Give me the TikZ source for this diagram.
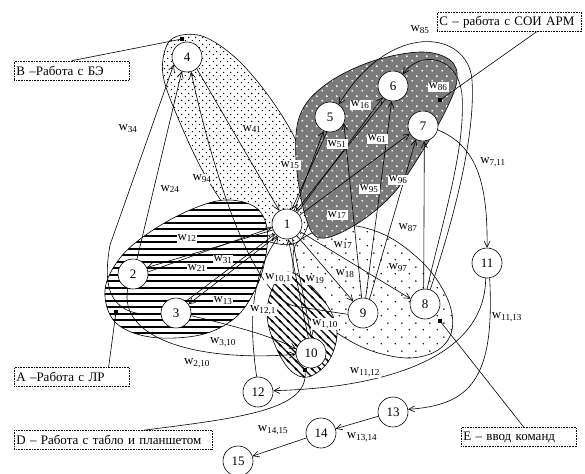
\documentclass[tikz,border=0pt]{standalone}
\usepackage{fontspec}
\setmainfont{Liberation Serif}
\usetikzlibrary{arrows.meta,patterns,calc}

\pgfdeclarepatternformonly{DotsB}{\pgfpointorigin}{\pgfqpoint{6.5pt}{6.5pt}}{\pgfqpoint{6.5pt}{6.5pt}}{%
  \pgfpathcircle{\pgfqpoint{1.6pt}{1.6pt}}{0.8pt}%
  \pgfpathcircle{\pgfqpoint{4.85pt}{4.85pt}}{0.8pt}%
  \pgfusepath{fill}}
\pgfdeclarepatternformonly{DotsE}{\pgfpointorigin}{\pgfqpoint{14pt}{14pt}}{\pgfqpoint{14pt}{14pt}}{%
  \pgfpathcircle{\pgfqpoint{3.5pt}{3.5pt}}{0.85pt}%
  \pgfpathcircle{\pgfqpoint{10.5pt}{10.5pt}}{0.85pt}%
  \pgfusepath{fill}}
\pgfdeclarepatternformonly{StripesA}{\pgfqpoint{-1pt}{0pt}}{\pgfqpoint{8pt}{6.5pt}}{\pgfqpoint{7pt}{6.5pt}}{%
  \pgfsetlinewidth{2.1pt}%
  \pgfpathmoveto{\pgfqpoint{-1pt}{3.25pt}}%
  \pgfpathlineto{\pgfqpoint{8pt}{3.25pt}}%
  \pgfusepath{stroke}}
\pgfdeclarepatternformonly{HatchD}{\pgfqpoint{-1pt}{-1pt}}{\pgfqpoint{9pt}{9pt}}{\pgfqpoint{8pt}{8pt}}{%
  \pgfsetlinewidth{1.4pt}%
  \pgfpathmoveto{\pgfqpoint{-1pt}{9pt}}\pgfpathlineto{\pgfqpoint{9pt}{-1pt}}%
  \pgfpathmoveto{\pgfqpoint{-1pt}{1pt}}\pgfpathlineto{\pgfqpoint{1pt}{-1pt}}%
  \pgfpathmoveto{\pgfqpoint{7pt}{9pt}}\pgfpathlineto{\pgfqpoint{9pt}{7pt}}%
  \pgfusepath{stroke}}
\pgfdeclarepatternformonly{CrossC}{\pgfpointorigin}{\pgfqpoint{10pt}{10pt}}{\pgfqpoint{10pt}{10pt}}{%
  \pgfsetlinewidth{0.8pt}%
  \pgfpathmoveto{\pgfqpoint{1.5pt}{2.5pt}}\pgfpathlineto{\pgfqpoint{3.5pt}{2.5pt}}%
  \pgfpathmoveto{\pgfqpoint{2.5pt}{1.5pt}}\pgfpathlineto{\pgfqpoint{2.5pt}{3.5pt}}%
  \pgfpathmoveto{\pgfqpoint{6.5pt}{7.5pt}}\pgfpathlineto{\pgfqpoint{8.5pt}{7.5pt}}%
  \pgfpathmoveto{\pgfqpoint{7.5pt}{6.5pt}}\pgfpathlineto{\pgfqpoint{7.5pt}{8.5pt}}%
  \pgfusepath{stroke}}

\tikzset{
  st/.style={circle, draw, fill=white, minimum size=30pt, inner sep=0pt, font=\fontsize{13}{14}\selectfont},
  arc/.style={-{Straight Barb[length=6pt,width=6pt]}},
  wl/.style={fill=white, inner sep=1pt, font=\fontsize{13}{14}\selectfont},
  zonebox/.style={draw, densely dotted, anchor=west, inner sep=2pt, align=left, minimum height=19pt, font=\fontsize{13}{15}\selectfont},
  ptr/.style={fill, inner sep=0pt, minimum size=3.5pt},
  zoneA/.style={draw, preaction={fill=white}, pattern=StripesA},
  zoneB/.style={draw, preaction={fill=white}, pattern=DotsB},
  zoneC/.style={draw, preaction={fill=black!52}, pattern=CrossC, pattern color=white},
  zoneD/.style={draw, preaction={fill=white}, pattern=HatchD},
  zoneE/.style={draw, preaction={fill=white}, pattern=DotsE},
}

\begin{document}
\begin{tikzpicture}[x=1pt,y=-1pt,line width=0.6pt]
\useasboundingbox (0,0) rectangle (585,473);

\draw[zoneE] plot[smooth cycle,tension=0.6] coordinates {(300,240) (340,225) (385,235) (425,265) (448,300) (452,330) (438,350) (410,358) (375,352) (345,338) (318,318) (298,290) (293,262)};
\draw[zoneB] plot[smooth cycle,tension=0.6] coordinates {(182,35) (207,38) (240,62) (275,105) (300,150) (312,200) (300,240) (270,242) (238,222) (205,175) (178,118) (163,75) (167,45)};
\draw[zoneC] plot[smooth cycle,tension=0.6] coordinates {(305,215) (296,160) (300,115) (325,85) (370,62) (420,52) (450,60) (457,80) (445,112) (420,155) (392,195) (355,225) (320,238)};
\draw[zoneA] plot[smooth cycle,tension=0.6] coordinates {(105,290) (120,258) (150,232) (190,210) (225,200) (255,207) (267,228) (265,260) (255,290) (235,318) (200,335) (150,337) (115,322)};
\draw[zoneD] plot[smooth cycle,tension=0.6] coordinates {(288,272) (310,285) (330,310) (337,335) (328,362) (308,377) (290,370) (275,345) (267,315) (273,287)};

\node[st] (n1) at (287,224) {1};
\node[st] (n2) at (133,274) {2};
\node[st] (n3) at (176,313) {3};
\node[st] (n4) at (187,57) {4};
\node[st] (n5) at (330,117) {5};
\node[st] (n6) at (393,86) {6};
\node[st] (n7) at (423,126) {7};
\node[st] (n8) at (425,304) {8};
\node[st] (n9) at (363,313) {9};
\node[st] (n10) at (311,353) {10};
\node[st] (n11) at (487,263) {11};
\node[st] (n12) at (258,392) {12};
\node[st] (n13) at (393,412) {13};
\node[st] (n14) at (321,433) {14};
\node[st] (n15) at (238,461) {15};

\draw[arc] (n4.-50) -- (n1.120);
\draw[arc] (n2.75) -- (n4.-110);
\draw[arc] (n3.185) .. controls (110,318) and (102,290) .. (110,245) -- (n4.-150);
\draw[arc] (n9.185) -- (300,307) .. controls (255,305) and (215,180) .. (n4.-75);
\draw[arc] (n1.203) -- (n2.25);
\draw[arc] (n2.8) -- (n1.193);
\draw[arc] (n1.230) -- (n3.35);
\draw[arc] (n3.50) -- (n1.220);
\draw[arc] (n2.250) .. controls (118,340) and (200,362) .. (n10.185);
\draw[arc] (n3.-10) .. controls (230,325) and (270,335) .. (n10.165);
\draw[arc] (n10.100) -- (n1.-85);
\draw[arc] (n1.-70) -- (n10.88);
\draw[arc] (n12.95) .. controls (250,330) and (248,280) .. (n1.235);
\draw[arc] (n1.-50) -- (n9.130);
\draw[arc] (n1.-30) -- (n8.160);
\draw[arc] (n1.62) -- (n5.245);
\draw[arc] (n5.258) -- (n1.72);
\draw[arc] (n1.48) -- (n6.228);
\draw[arc] (n6.240) -- (n1.56);
\draw[arc] (n1.35) -- (n7.210);
\draw[arc] (n9.95) -- (n5.-25);
\draw[arc] (n9.80) -- (n6.-95);
\draw[arc] (n9.65) -- (n7.-118);
\draw[arc] (n8.95) -- (n7.-85);
\draw[arc] (n8.70) .. controls (450,230) and (476,140) .. (472,80) .. controls (468,30) and (390,20) .. (n5.55);
\draw[arc] (n8.82) .. controls (440,230) and (466,150) .. (462,95) .. controls (458,55) and (420,50) .. (n6.50);
\draw[arc] (n7.-15) .. controls (475,145) and (488,180) .. (n11.90);
\draw[arc] (n11.-95) .. controls (485,360) and (380,388) .. (n12.5);
\draw[arc] (n11.-80) .. controls (495,380) and (470,405) .. (n13.10);
\draw[arc] (n13) -- (n14);
\draw[arc] (n14) -- (n15);

\node[wl] (w34) at (128,129) {w\textsubscript{34}};
\node[wl] (w24) at (170,189) {w\textsubscript{24}};
\node[wl] (w94) at (202,179) {w\textsubscript{94}};
\node[wl] (w41) at (252,129) {w\textsubscript{41}};
\node[wl] (w15) at (290,165) {w\textsubscript{15}};
\node[wl] (w85) at (420,30) {w\textsubscript{85}};
\node[wl] (w86) at (438,87) {w\textsubscript{86}};
\node[wl] (w16) at (360,105) {w\textsubscript{16}};
\node[wl] (w51) at (337,144) {w\textsubscript{51}};
\node[wl] (w61) at (377,139) {w\textsubscript{61}};
\node[wl] (w711) at (493,162) {w\textsubscript{7,11}};
\node[wl] (w96) at (398,180) {w\textsubscript{96}};
\node[wl] (w95) at (369,189) {w\textsubscript{95}};
\node[wl] (w17a) at (337,215) {w\textsubscript{17}};
\node[wl] (w87) at (408,228) {w\textsubscript{87}};
\node[wl] (w12) at (187,238) {w\textsubscript{12}};
\node[wl] (w31) at (223,260) {w\textsubscript{31}};
\node[wl] (w21) at (197,268) {w\textsubscript{21}};
\node[wl] (w13) at (223,301) {w\textsubscript{13}};
\node[wl] (w101) at (278,278) {w\textsubscript{10,1}};
\node[wl] (w121) at (263,310) {w\textsubscript{12,1}};
\node[wl] (w310) at (223,342) {w\textsubscript{3,10}};
\node[wl] (w210) at (197,363) {w\textsubscript{2,10}};
\node[wl] (w1415) at (273,430) {w\textsubscript{14,15}};
\node[wl] (w17b) at (343,245) {w\textsubscript{17}};
\node[wl] (w18) at (345,274) {w\textsubscript{18}};
\node[wl] (w19) at (315,280) {w\textsubscript{19}};
\node[wl] (w97) at (398,268) {w\textsubscript{97}};
\node[wl] (w110) at (325,324) {w\textsubscript{1,10}};
\node[wl] (w1112) at (365,372) {w\textsubscript{11,12}};
\node[wl] (w1113) at (507,317) {w\textsubscript{11,13}};
\node[wl] (w1314) at (362,437) {w\textsubscript{13,14}};

\node[zonebox, text width=111pt] (bB) at (14,70.5) {B –Работа с БЭ};
\node[zonebox, text width=140pt] (bC) at (437,22) {C – работа с СОИ АРМ};
\node[zonebox, text width=111pt] (bA) at (14,377) {A –Работа с ЛР};
\node[zonebox, text width=194pt] (bD) at (14,440) {D – Работа с табло и планшетом};
\node[zonebox, text width=111pt] (bE) at (461,437) {E – ввод команд};

\node[ptr] (pB) at (182,39) {};
\node[ptr] (pC) at (440,100) {};
\node[ptr] (pA) at (116,312) {};
\node[ptr] (pD) at (305,370) {};
\node[ptr] (pE) at (440,321) {};

\draw (bB.north) -- (pB);
\draw ([xshift=-45pt]bC.south east) -- (pC);
\draw ([xshift=-21pt]bA.north east) -- (pA);
\draw ([xshift=-69pt]bD.north east) .. controls (240,418) and (308,410) .. (pD);
\draw ([xshift=5pt]bE.north) -- (pE);
\end{tikzpicture}
\end{document}
